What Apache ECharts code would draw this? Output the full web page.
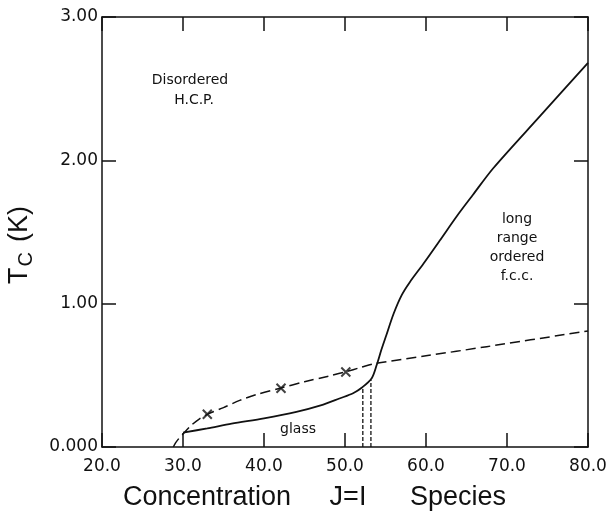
<!DOCTYPE html>
<html>
<head>
<meta charset="utf-8">
<script src="https://cdn.jsdelivr.net/npm/echarts@6/dist/echarts.min.js"></script>
<style>
  html, body { margin: 0; padding: 0; background: #fff; }
  #chart { width: 610px; height: 515px; }
</style>
</head>
<body>
<div id="chart"></div>
<script>
// dashed boundary of the disordered h.c.p. phase  [concentration, Tc]
const hcpBoundary = [
    [28.8, 0], [29.1, 0.03], [29.5, 0.06], [30, 0.09], [31, 0.15], [32, 0.195],
    [33, 0.228], [35, 0.275], [37, 0.325], [39, 0.365], [42, 0.41], [45, 0.455],
    [48, 0.495], [50, 0.523], [52, 0.556], [53.9, 0.584], [60, 0.636],
    [67.5, 0.70], [80, 0.81]
]
// solid boundary of the long range ordered f.c.c. phase
const fccBoundary = [
    [30, 0.1], [33, 0.13], [36, 0.163], [40, 0.2], [44, 0.245], [47, 0.29],
    [49.4, 0.34], [51, 0.375], [52.1, 0.415], [53.3, 0.48], [53.9, 0.57],
    [54.5, 0.68], [55.1, 0.78], [56, 0.93], [57, 1.06], [58, 1.15], [59.7, 1.28],
    [61.7, 1.44], [63.8, 1.61], [65.8, 1.76], [68.3, 1.945], [74.1, 2.31], [80, 2.68]
]
// glass edges (short dashed verticals)
const glassEdgeX   = [52.2, 53.2]
const glassEdgeTop = [0.417, 0.467]
// measured points (x marks)
const measured = [[33.0, 0.228], [42.1, 0.41], [50.1, 0.523]]

const xTickLabels = ['20.0', '30.0', '40.0', '50.0', '60.0', '70.0', '80.0']
const yTickLabels = ['0.000', '1.00', '2.00', '3.00']

const ink = '#111'
const tickFont = { fontSize: 17, color: ink, fontFamily: 'DejaVu Sans' }
const textFont = 'DejaVu Sans'

function axisX(pos, labels) {
    return {
        type: 'value', min: 20, max: 80, interval: 10, position: pos,
        axisLine:  { show: true, onZero: false, lineStyle: { color: ink, width: 1.5 } },
        axisTick:  { show: true, inside: true, length: 14, lineStyle: { color: ink, width: 1.5 } },
        axisLabel: labels
            ? { ...tickFont, margin: 11, formatter: v => xTickLabels[Math.round((v - 20) / 10)] }
            : { show: false },
        splitLine: { show: false },
    }
}

function axisY(pos, labels) {
    return {
        type: 'value', min: 0, max: 3, interval: 1, position: pos,
        axisLine:  { show: true, onZero: false, lineStyle: { color: ink, width: 1.5 } },
        axisTick:  { show: true, inside: true, length: 14, lineStyle: { color: ink, width: 1.5 } },
        axisLabel: labels
            ? { ...tickFont, margin: 4, formatter: v => yTickLabels[Math.round(v)] }
            : { show: false },
        splitLine: { show: false },
    }
}

const edgeSeries = glassEdgeX.map((x, i) => ({
    type: 'line',
    data: [[x, 0], [x, glassEdgeTop[i]]],
    symbol: 'none',
    lineStyle: { color: ink, width: 1.3, type: [4, 2] },
}))

const chart = echarts.init(document.getElementById('chart'))
chart.setOption({
    animation: false,
    grid: { left: 102, right: 22, top: 17, bottom: 68 },
    xAxis: [axisX('bottom', true), axisX('top', false)],
    yAxis: [axisY('left', true), axisY('right', false)],
    series: [
        {
            type: 'line',
            data: hcpBoundary,
            smooth: 0.3,
            symbol: 'none',
            lineStyle: { color: ink, width: 1.5, type: [10, 5] },
        },
        {
            type: 'line',
            data: fccBoundary,
            smooth: 0.3,
            symbol: 'none',
            lineStyle: { color: ink, width: 1.8 },
        },
        ...edgeSeries,
        {
            type: 'scatter',
            data: measured,
            symbol: 'path://M0,0L10,10M10,0L0,10',
            symbolSize: 9,
            itemStyle: { color: 'transparent', borderColor: ink, borderWidth: 2 },
        },
    ],
    graphic: [
        { type: 'text', x: 190, y: 80, style: { text: 'Disordered', font: '14px ' + textFont, fill: ink, align: 'center', verticalAlign: 'middle' } },
        { type: 'text', x: 194, y: 100, style: { text: 'H.C.P.', font: '14px ' + textFont, fill: ink, align: 'center', verticalAlign: 'middle' } },
        { type: 'text', x: 517, y: 248, style: { text: 'long\nrange\nordered\nf.c.c.', font: '14px ' + textFont, lineHeight: 19, fill: ink, align: 'center', verticalAlign: 'middle' } },
        { type: 'text', x: 298, y: 429, style: { text: 'glass', font: '14px ' + textFont, fill: ink, align: 'center', verticalAlign: 'middle' } },
        { type: 'text', x: 207, y: 498, style: { text: 'Concentration', font: '27px Liberation Sans', fill: ink, align: 'center', verticalAlign: 'middle' } },
        { type: 'text', x: 348, y: 498, style: { text: 'J=I', font: '27px Liberation Sans', fill: ink, align: 'center', verticalAlign: 'middle' } },
        { type: 'text', x: 458, y: 498, style: { text: 'Species', font: '27px Liberation Sans', fill: ink, align: 'center', verticalAlign: 'middle' } },
        {
            type: 'text', x: 20, y: 245, rotation: Math.PI / 2,
            style: {
                text: '{t|T}{s|C}   {t|(K)}',
                align: 'center', verticalAlign: 'middle',
                rich: {
                    t: { fontSize: 27, fontFamily: 'Liberation Sans', fill: ink, lineHeight: 34 },
                    s: { fontSize: 20, fontFamily: 'Liberation Sans', fill: ink, lineHeight: 34, padding: [12, 0, 0, 1] },
                },
            },
        },
    ],
})
</script>
</body>
</html>
